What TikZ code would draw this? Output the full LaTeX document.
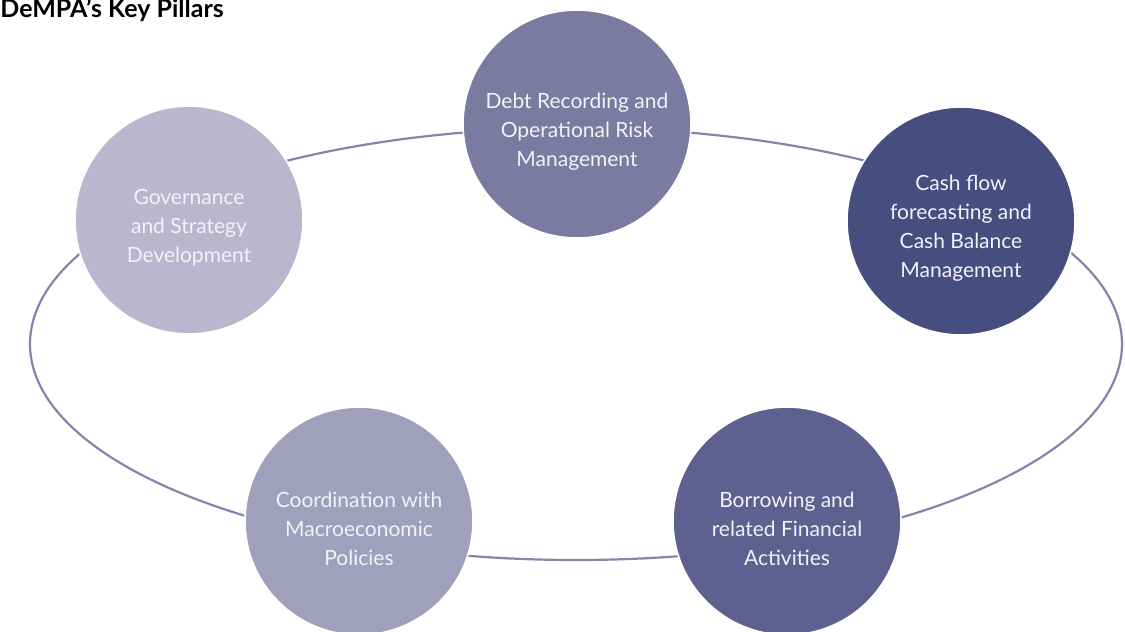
\documentclass[tikz,border=0pt]{standalone}
\usepackage{fontspec}
\setmainfont{Lato}
\usepackage{xcolor}
\usepackage{tikz}
\definecolor{ringline}{HTML}{8584AB}
\definecolor{debtc}{HTML}{7B7BA1}
\definecolor{cashc}{HTML}{454E7E}
\definecolor{borrc}{HTML}{5E618F}
\definecolor{coordc}{HTML}{A09FBC}
\definecolor{govc}{HTML}{B9B7CE}
\definecolor{labtext}{HTML}{F2F2F7}
\tikzset{
  ring/.style={draw=ringline, line width=1.1pt},
  pillar/.style={circle, draw=white, line width=0.8pt, inner sep=0pt,
    minimum size=114pt},
  lab/.style={align=center, text=labtext, inner sep=0pt, yshift=-3.7pt,
    font=\fontsize{10.5}{14.5}\selectfont},
  ttl/.style={anchor=base west, inner sep=0pt, font=\fontsize{12.5}{14}\selectfont\bfseries},
}
\begin{document}
\begin{tikzpicture}[x=0.5pt,y=-0.5pt]
  \useasboundingbox (0,0) rectangle (1125,632);

  \node[ttl] (title) at (0,17) {DeMPA’s Key Pillars};

  % ring behind the pillars
  \draw[ring] (576,344) ellipse [x radius=546, y radius=216];

  \node[pillar, fill=debtc,  label={[lab]center:Debt Recording and\\Operational Risk\\Management}] (debt) at (577,124) {};
  \node[pillar, fill=cashc,  label={[lab]center:Cash flow\\forecasting and\\Cash Balance\\Management}] (cash) at (961,221) {};
  \node[pillar, fill=borrc,  label={[lab]center:Borrowing and\\related Financial\\Activities}] (borr) at (787,521) {};
  \node[pillar, fill=coordc, label={[lab]center:Coordination with\\Macroeconomic\\Policies}] (coord) at (359,521) {};
  \node[pillar, fill=govc,   label={[lab]center:Governance\\and Strategy\\Development}] (gov) at (189,220) {};
\end{tikzpicture}
\end{document}
